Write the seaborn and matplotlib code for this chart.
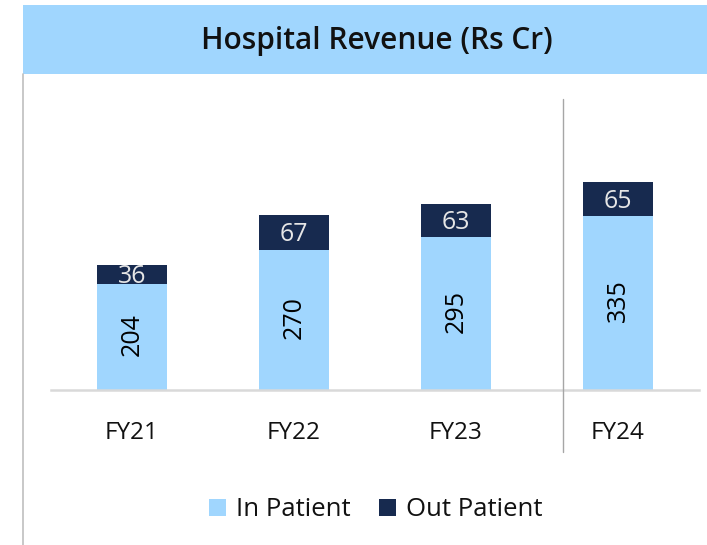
import matplotlib
matplotlib.use("Agg")
import matplotlib.pyplot as plt
import seaborn as sns
import pandas as pd
from matplotlib.patches import Rectangle, Patch
from matplotlib.lines import Line2D

categories = ["FY21", "FY22", "FY23", "FY24"]
in_patient = [204, 270, 295, 335]
out_patient = [36, 67, 63, 65]
series_names = ["In Patient", "Out Patient"]
title = "Hospital Revenue (Rs Cr)"

LIGHT = "#A0D6FE"
DARK = "#172A4F"

sns.set_theme(style="white")
plt.rcParams['font.family'] = ['Open Sans', 'DejaVu Sans']

W, H = 707, 545
fig = plt.figure(figsize=(7.07, 5.45), dpi=100)


def fx(px):
    return px / W


def fy(py):
    return 1 - py / H


# title band
fig.patches.append(Rectangle((fx(23), fy(74)), fx(707) - fx(23), fy(5) - fy(74),
                             transform=fig.transFigure, facecolor=LIGHT,
                             edgecolor='none', zorder=0))
fig.text(fx(377), fy(41), title, ha='center', va='center', fontsize=21.5,
         fontweight='semibold', color='#111111')
# left border line
fig.add_artist(Line2D([fx(23), fx(23)], [fy(74), 0], color='#BFBFBF', lw=1.2))
# separator line
fig.add_artist(Line2D([fx(563), fx(563)], [fy(99), fy(452)], color='#A6A6A6', lw=1))

ax = fig.add_axes([fx(51), fy(390), fx(699) - fx(51), fy(99) - fy(390)])
df = pd.DataFrame({"cat": categories, "in": in_patient, "out": out_patient})
df["total"] = df["in"] + df["out"]
sns.barplot(data=df, x="cat", y="total", color=DARK, width=0.432, ax=ax,
            saturation=1, edgecolor='none')
sns.barplot(data=df, x="cat", y="in", color=LIGHT, width=0.432, ax=ax,
            saturation=1, edgecolor='none')

for i, (a, b) in enumerate(zip(in_patient, out_patient)):
    ax.text(i, a / 2 + 4, str(a), rotation=90, ha='center', va='center',
            fontsize=18, color='black')
    ax.text(i, a + b / 2 - 4, str(b), ha='center', va='center',
            fontsize=18, color='#E6E6E6')

ax.set_xlim(-0.5, 3.5)
ax.set_ylim(0, 560)
ax.set_xlabel('')
ax.set_ylabel('')
ax.set_yticks([])
for s in ['top', 'left', 'right']:
    ax.spines[s].set_visible(False)
ax.spines['bottom'].set_color('#D9D9D9')
ax.spines['bottom'].set_linewidth(1.8)
ax.tick_params(axis='x', length=0, pad=22, labelsize=17.5, labelcolor='#111111')
ax.patch.set_alpha(0)

handles = [Patch(facecolor=LIGHT, edgecolor='none'), Patch(facecolor=DARK, edgecolor='none')]
fig.legend(handles, series_names, loc='center', bbox_to_anchor=(fx(376), fy(510)),
           ncol=2, frameon=False, fontsize=18.5, handlelength=0.65, handleheight=0.65,
           handletextpad=0.4, columnspacing=1.1, labelcolor='#111111')

fig.savefig("out.png", dpi=100)
